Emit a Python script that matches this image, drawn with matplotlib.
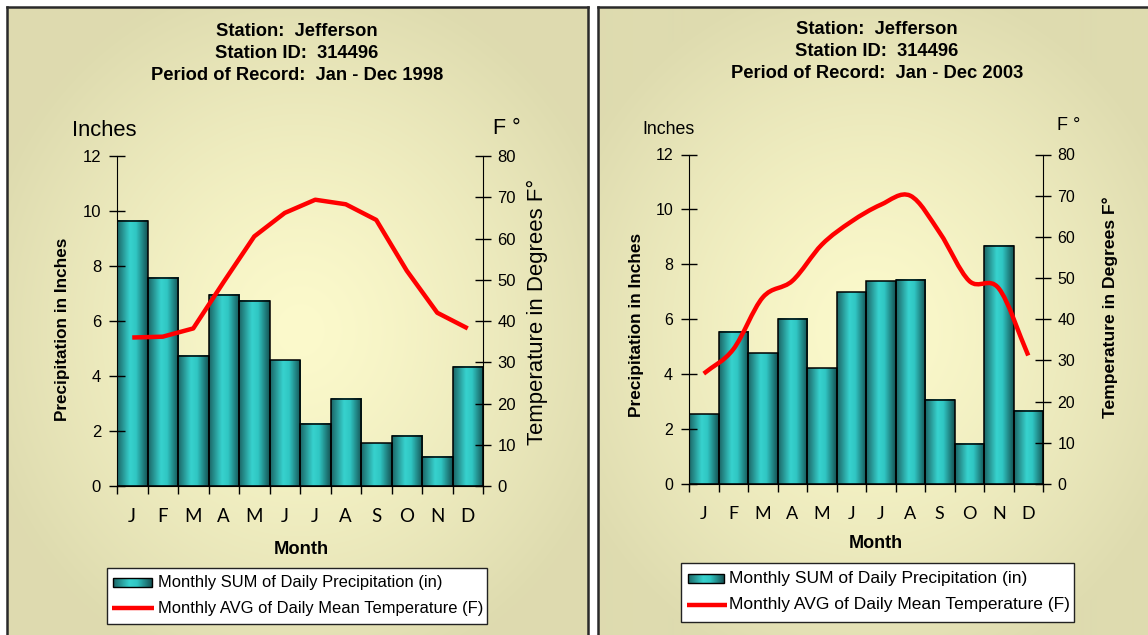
import numpy as np
import matplotlib
matplotlib.use('Agg')
import matplotlib.pyplot as plt
from matplotlib.patches import Rectangle, PathPatch
from matplotlib.path import Path
from matplotlib.colors import LinearSegmentedColormap

W, H = 1148, 635

months = ['J', 'F', 'M', 'A', 'M', 'J', 'J', 'A', 'S', 'O', 'N', 'D']

precip_1998 = [9.65, 7.57, 4.74, 6.96, 6.73, 4.58, 2.26, 3.17, 1.56, 1.82, 1.06, 4.34]
temp_1998 = [36.0, 36.2, 38.2, 49.5, 60.5, 66.2, 69.4, 68.3, 64.5, 52.2, 42.0, 38.2]

precip_2003 = [2.54, 5.54, 4.76, 6.01, 4.21, 6.98, 7.38, 7.43, 3.07, 1.47, 8.68, 2.67]
temp_2003 = [26.8, 32.7, 45.3, 49.3, 58.1, 63.7, 67.8, 70.0, 61.0, 49.3, 47.5, 31.2]

station = 'Jefferson'
station_id = '314496'

LEG_BAR = 'Monthly SUM of Daily Precipitation (in)'
LEG_LINE = 'Monthly AVG of Daily Mean Temperature (F)'

plt.rcParams['font.family'] = ['Liberation Sans', 'DejaVu Sans']

bar_cmap = LinearSegmentedColormap.from_list(
    'teal', [(0.0, '#1c6666'), (0.42, '#37d2ce'), (0.62, '#30c6c3'), (1.0, '#155354')])
bg_center = np.array([252, 250, 204]) / 255
bg_edge = np.array([222, 219, 175]) / 255

fig = plt.figure(figsize=(W / 100, H / 100), dpi=100)
fig.patch.set_facecolor('white')

# overlay in pixel coordinates for titles, labels and legends
ov = fig.add_axes([0, 0, 1, 1], zorder=5)
ov.set_axis_off()
ov.patch.set_alpha(0)


def px_rect(x0, y0, x1, y1):
    return [x0 / W, 1 - y1 / H, (x1 - x0) / W, (y1 - y0) / H]


def panel_background(x0, y0, x1, y1, cx, cy, rx, ry, borders):
    bg = fig.add_axes(px_rect(x0, y0, x1, y1), zorder=0)
    xs = np.arange(x0, x1)
    ys = np.arange(y0, y1)
    xx, yy = np.meshgrid(xs, ys)
    t = np.clip(np.sqrt(((xx - cx) / rx) ** 2 + ((yy - cy) / ry) ** 2), 0, 1) ** 1.3
    img = bg_center * (1 - t[..., None]) + bg_edge * t[..., None]
    bg.imshow(img, extent=(x0, x1, y1, y0), aspect='auto', interpolation='bilinear')
    bg.set_xticks([])
    bg.set_yticks([])
    for side in ['top', 'bottom', 'left', 'right']:
        bg.spines[side].set_visible(side in borders)
        bg.spines[side].set_color('#2a2a2a')
        bg.spines[side].set_linewidth(1.8)


def gradient_bars(ax, bars):
    grad = np.linspace(0, 1, 64)[None, :]
    for b in bars:
        x, y = b.get_x(), b.get_y()
        w, h = b.get_width(), b.get_height()
        ax.imshow(grad, cmap=bar_cmap, extent=(x, x + w, y, y + h),
                  aspect='auto', zorder=1, interpolation='bilinear')


def smooth_path(xs, ys):
    # Catmull-Rom segments written as cubic Bezier pieces
    p = np.column_stack([xs, ys]).astype(float)
    ext = np.vstack([2 * p[0] - p[1], p, 2 * p[-1] - p[-2]])
    verts = [p[0]]
    codes = [Path.MOVETO]
    for i in range(1, len(ext) - 2):
        p0, p1, p2, p3 = ext[i - 1], ext[i], ext[i + 1], ext[i + 2]
        verts += [p1 + (p2 - p0) / 6, p2 - (p3 - p1) / 6, p2]
        codes += [Path.CURVE4] * 3
    return Path(verts, codes)


def draw_chart(rect, precip, temp, smooth, tick_fs, month_fs):
    ax = fig.add_axes(px_rect(*rect), zorder=2)
    ax.patch.set_alpha(0)
    x = np.arange(1, 13)
    bars = ax.bar(x, precip, width=1.0, facecolor='none', edgecolor='black',
                  linewidth=1.1, zorder=2)
    gradient_bars(ax, bars)
    ax.set_xlim(0.5, 12.5)
    ax.set_ylim(0, 12)
    ax.set_yticks(range(0, 13, 2))
    ax.set_xticks(np.arange(0.5, 13, 1))
    ax.set_xticklabels([])
    ax.set_xticks(x, minor=True)
    ax.set_xticklabels(months, minor=True, fontfamily='Lato', fontsize=month_fs)
    ax.tick_params(axis='x', which='major', direction='out', length=6, width=1)
    ax.tick_params(axis='x', which='minor', length=0, pad=16)
    ax.tick_params(axis='y', direction='inout', length=11, width=1,
                   labelsize=tick_fs, pad=6)
    ax.spines['top'].set_visible(False)
    ax.spines['right'].set_visible(False)

    ax2 = ax.twinx()
    ax2.set_zorder(3)
    ax2.patch.set_alpha(0)
    ax2.set_ylim(0, 80)
    ax2.set_yticks(range(0, 81, 10))
    ax2.tick_params(axis='y', direction='inout', length=11, width=1,
                    labelsize=tick_fs, pad=5)
    for side in ['top', 'left', 'bottom']:
        ax2.spines[side].set_visible(False)
    if smooth:
        ax2.add_patch(PathPatch(smooth_path(x, temp), fill=False, edgecolor='#ff0000',
                                linewidth=3.2, capstyle='butt', joinstyle='round'))
    else:
        ax2.plot(x, temp, color='#ff0000', linewidth=3.2,
                 solid_joinstyle='round', solid_capstyle='butt')
    return ax, ax2


def legend_box(x0, y0, x1, y1, sw, line, text_x, rows, fs):
    ov.add_patch(Rectangle((x0, y0), x1 - x0, y1 - y0, facecolor='white',
                           edgecolor='#222222', linewidth=1.0, zorder=1))
    sx0, sy0, sx1, sy1 = sw
    ov.imshow(np.linspace(0, 1, 64)[None, :], cmap=bar_cmap, aspect='auto',
              extent=(sx0, sx1, sy1, sy0), interpolation='bilinear', zorder=2)
    ov.add_patch(Rectangle((sx0, sy0), sx1 - sx0, sy1 - sy0, facecolor='none',
                           edgecolor='black', linewidth=1.0, zorder=3))
    lx0, lx1, ly = line
    ov.plot([lx0, lx1], [ly, ly], color='#ff0000', linewidth=3.2,
            solid_capstyle='butt', zorder=3)
    ov.text(text_x, rows[0], LEG_BAR, fontsize=fs, va='center', ha='left', zorder=4)
    ov.text(text_x, rows[1], LEG_LINE, fontsize=fs, va='center', ha='left', zorder=4)


# panel backgrounds
panel_background(7, 7, 588, 645, 300, 330, 330, 360, ['top', 'left', 'right'])
panel_background(598, 7, 1160, 645, 870, 330, 330, 360, ['top', 'left'])

# 1998 chart
draw_chart((117, 156, 483, 486), precip_1998, temp_1998, False, 12, 13.5)
# 2003 chart
draw_chart((689, 154.5, 1043, 484), precip_2003, temp_2003, True, 11.5, 13)

# titles
for cx, top, year in [(297, 32, '1998'), (877, 29, '2003')]:
    for i, line in enumerate(['Station:  ' + station,
                              'Station ID:  ' + station_id,
                              'Period of Record:  Jan - Dec ' + year]):
        ov.text(cx, top + 22 * i, line, ha='center', va='center',
                fontsize=13.2, fontweight='bold')

# axis captions, 1998 panel
ov.text(104, 130, 'Inches', ha='center', va='center', fontsize=15.8)
ov.text(507, 128, 'F \u00b0', ha='center', va='center', fontsize=15.5)
ov.text(62, 329, 'Precipitation in Inches', rotation=90, ha='center', va='center',
        fontsize=12.3, fontweight='bold')
ov.text(537, 312, 'Temperature in Degrees F\u00b0', rotation=90, ha='center',
        va='center', fontsize=15.9)
ov.text(301, 550, 'Month', ha='center', va='center', fontsize=13.2, fontweight='bold')

# axis captions, 2003 panel
ov.text(669, 129, 'Inches', ha='center', va='center', fontsize=12.8)
ov.text(1069, 125, 'F \u00b0', ha='center', va='center', fontsize=13)
ov.text(637, 325, 'Precipitation in Inches', rotation=90, ha='center', va='center',
        fontsize=12.4, fontweight='bold')
ov.text(1110, 307, 'Temperature in Degrees F\u00b0', rotation=90, ha='center',
        va='center', fontsize=12.6, fontweight='bold')
ov.text(876, 543, 'Month', ha='center', va='center', fontsize=13, fontweight='bold')

# legends
legend_box(107, 568, 487, 624, (113, 578, 152, 587), (112, 154, 608), 158,
           (582, 608), 11.9)
legend_box(681, 563, 1074, 622, (688, 574, 724, 583), (687, 727, 605), 729,
           (578, 605), 12.5)

ov.set_xlim(0, W)
ov.set_ylim(H, 0)

fig.savefig('out.png', dpi=100)
